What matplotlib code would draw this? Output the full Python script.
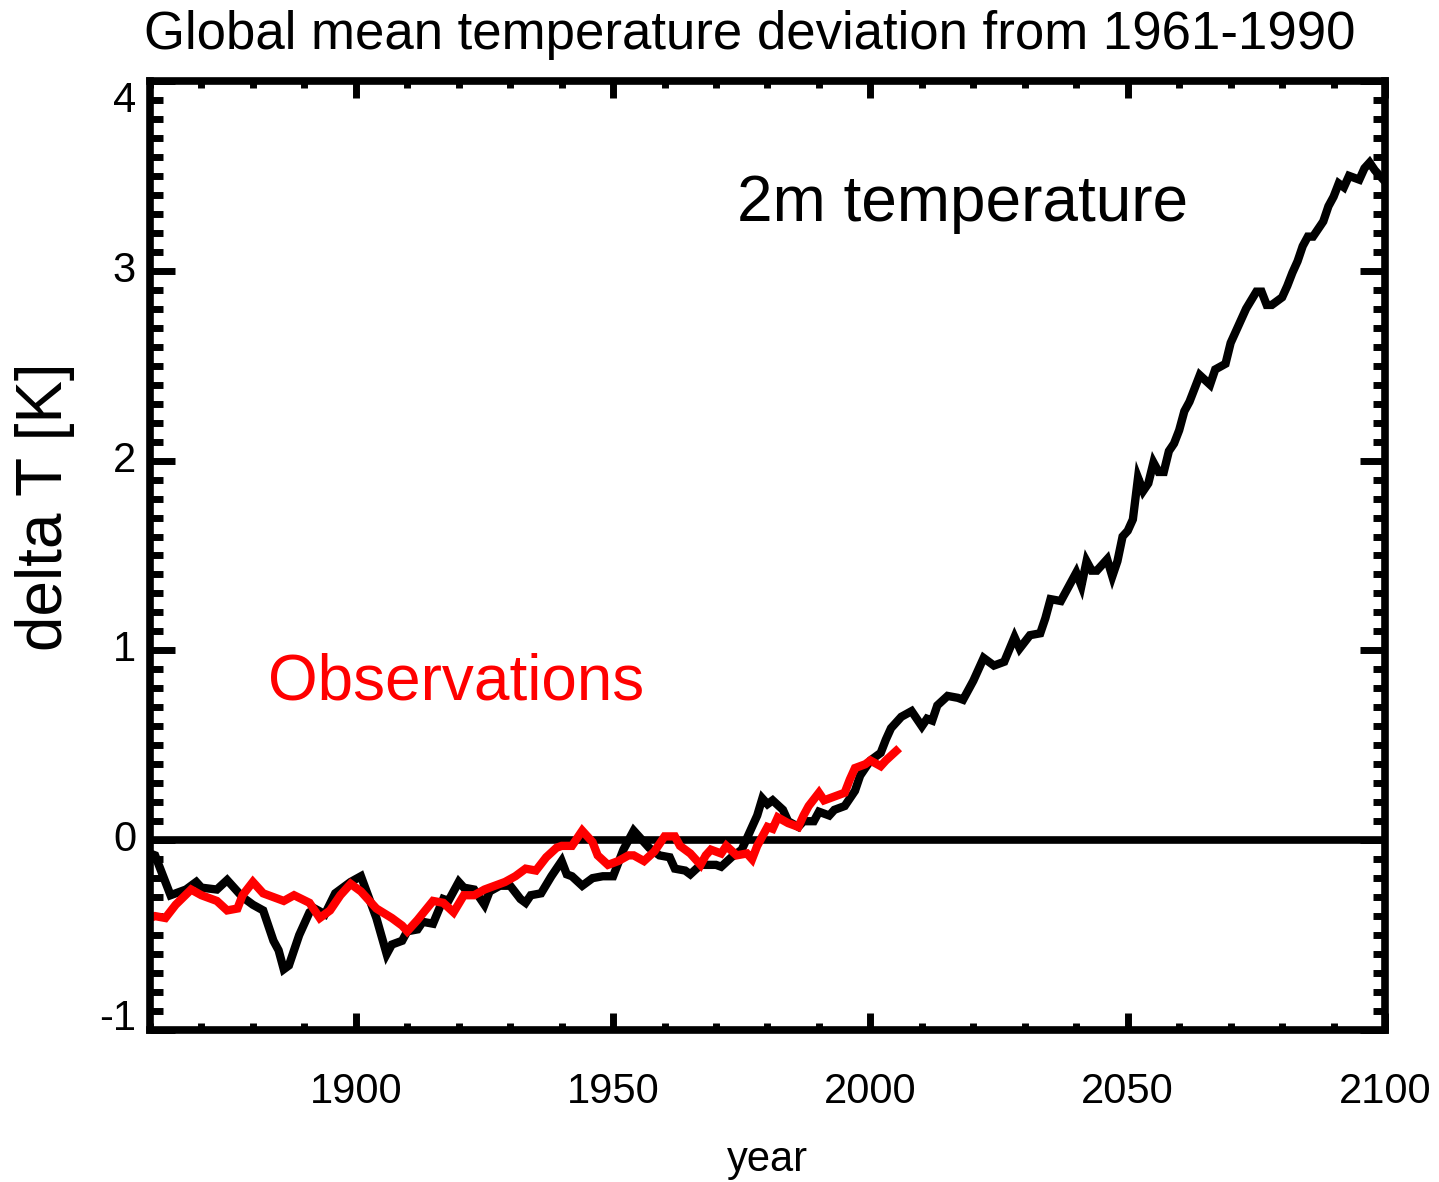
import matplotlib
matplotlib.use("Agg")
import matplotlib.pyplot as plt
from matplotlib.ticker import MultipleLocator

plt.rcParams['font.family'] = ['Liberation Sans', 'DejaVu Sans']
plt.rcParams['axes.unicode_minus'] = False

# model run, 2m temperature anomaly vs 1961-1990 (K)
model_years = [1860, 1861, 1862, 1864, 1867, 1869, 1870, 1873, 1875, 1876, 1878, 1880,
               1882, 1884, 1885, 1886, 1887, 1889, 1891, 1892, 1894, 1896, 1899, 1901,
               1904, 1906, 1907, 1909, 1910, 1912, 1913, 1915, 1917, 1918, 1920, 1921,
               1923, 1925, 1926, 1928, 1930, 1932, 1933, 1934, 1936, 1938, 1940, 1941,
               1942, 1944, 1946, 1948, 1950, 1951, 1952, 1954, 1955, 1957, 1959, 1961,
               1962, 1964, 1965, 1967, 1970, 1971, 1973, 1975, 1976, 1977, 1978, 1979,
               1980, 1981, 1983, 1984, 1986, 1987, 1989, 1990, 1992, 1993, 1995, 1997,
               1998, 2000, 2002, 2003, 2004, 2006, 2008, 2010, 2011, 2012, 2013, 2015,
               2017, 2018, 2020, 2022, 2024, 2026, 2028, 2029, 2031, 2033, 2034, 2035,
               2037, 2038, 2040, 2041, 2042, 2043, 2044, 2046, 2047, 2048, 2049, 2050,
               2051, 2052, 2053, 2054, 2055, 2056, 2057, 2058, 2059, 2060, 2061, 2062,
               2064, 2066, 2067, 2069, 2070, 2072, 2073, 2075, 2076, 2077, 2078, 2080,
               2081, 2082, 2083, 2084, 2085, 2086, 2088, 2089, 2090, 2091, 2092, 2093,
               2095, 2096, 2097, 2098, 2099, 2100]
model_dt = [-0.07, -0.08, -0.15, -0.29, -0.26, -0.22, -0.25, -0.26, -0.21, -0.24, -0.30, -0.34,
            -0.37, -0.53, -0.58, -0.68, -0.66, -0.50, -0.38, -0.36, -0.39, -0.28, -0.22, -0.19,
            -0.41, -0.60, -0.55, -0.53, -0.48, -0.47, -0.43, -0.44, -0.31, -0.32, -0.22, -0.25,
            -0.26, -0.34, -0.27, -0.24, -0.24, -0.31, -0.33, -0.29, -0.28, -0.19, -0.11, -0.18,
            -0.19, -0.24, -0.20, -0.19, -0.19, -0.12, -0.05, 0.05, 0.02, -0.04, -0.08, -0.09,
            -0.15, -0.16, -0.18, -0.13, -0.13, -0.14, -0.09, -0.05, 0.01, 0.07, 0.13, 0.22,
            0.19, 0.21, 0.16, 0.10, 0.07, 0.10, 0.10, 0.15, 0.13, 0.16, 0.18, 0.26,
            0.34, 0.42, 0.46, 0.53, 0.59, 0.65, 0.68, 0.60, 0.64, 0.63, 0.71, 0.76,
            0.75, 0.74, 0.84, 0.96, 0.92, 0.94, 1.07, 1.01, 1.08, 1.09, 1.17, 1.27,
            1.26, 1.31, 1.41, 1.34, 1.47, 1.42, 1.42, 1.48, 1.39, 1.47, 1.60, 1.63,
            1.69, 1.91, 1.84, 1.88, 1.99, 1.94, 1.94, 2.05, 2.09, 2.16, 2.26, 2.31,
            2.45, 2.40, 2.48, 2.51, 2.62, 2.74, 2.80, 2.89, 2.89, 2.82, 2.82, 2.86,
            2.92, 2.99, 3.05, 3.13, 3.18, 3.18, 3.26, 3.34, 3.39, 3.46, 3.44, 3.50,
            3.48, 3.54, 3.57, 3.53, 3.50, 3.47]

# observed anomaly
obs_years = [1860, 1861, 1863, 1865, 1868, 1870, 1873, 1875, 1877, 1878, 1880, 1882,
             1884, 1886, 1888, 1891, 1893, 1895, 1897, 1899, 1901, 1904, 1907, 1909,
             1910, 1912, 1915, 1917, 1919, 1921, 1923, 1925, 1927, 1929, 1931, 1933,
             1935, 1937, 1939, 1940, 1942, 1944, 1946, 1947, 1949, 1951, 1953, 1954,
             1956, 1958, 1960, 1962, 1963, 1965, 1967, 1968, 1969, 1971, 1972, 1974,
             1976, 1977, 1978, 1980, 1981, 1982, 1984, 1986, 1987, 1988, 1990, 1991,
             1993, 1995, 1996, 1997, 1999, 2000, 2002, 2003, 2005]
obs_dt = [-0.41, -0.40, -0.41, -0.34, -0.26, -0.29, -0.32, -0.37, -0.36, -0.29, -0.22, -0.28,
          -0.30, -0.32, -0.29, -0.33, -0.41, -0.37, -0.29, -0.23, -0.27, -0.36, -0.41, -0.45,
          -0.48, -0.42, -0.32, -0.33, -0.38, -0.29, -0.29, -0.26, -0.24, -0.22, -0.19, -0.15,
          -0.16, -0.09, -0.04, -0.03, -0.03, 0.05, -0.01, -0.08, -0.13, -0.11, -0.08, -0.08,
          -0.11, -0.06, 0.02, 0.02, -0.03, -0.07, -0.13, -0.08, -0.05, -0.07, -0.03, -0.08,
          -0.07, -0.10, -0.03, 0.07, 0.06, 0.12, 0.09, 0.07, 0.13, 0.18, 0.25, 0.21,
          0.23, 0.25, 0.32, 0.38, 0.40, 0.42, 0.39, 0.42, 0.47]

y_ticks = [-1, 0, 1, 2, 3, 4]
x_ticks = [1900, 1950, 2000, 2050, 2100]

fig = plt.figure(figsize=(14.39, 11.82), dpi=100)
ax = fig.add_axes([0.1042, 0.1286, 0.8583, 0.8029])

ax.axhline(0, color='black', lw=5.5)
ax.plot(model_years, model_dt, color='black', lw=6, solid_joinstyle='miter')
ax.plot(obs_years, obs_dt, color='red', lw=6, solid_joinstyle='miter')

ax.set_xlim(1860, 2100)
ax.set_ylim(-1, 4)
ax.set_xticks(x_ticks)
ax.set_yticks(y_ticks)
ax.xaxis.set_minor_locator(MultipleLocator(10))
ax.yaxis.set_minor_locator(MultipleLocator(0.1))

for s in ax.spines.values():
    s.set_linewidth(5.5)

ax.tick_params(axis='both', which='both', direction='in', top=True, right=True,
               labelsize=30, width=5)
ax.tick_params(axis='x', which='major', length=12, pad=30)
ax.tick_params(axis='x', which='minor', length=5)
ax.tick_params(axis='y', which='major', length=18, pad=10)
ax.tick_params(axis='y', which='minor', length=9)

# pull the end labels inside the frame
ylabs = ax.get_yticklabels()
for lab in ylabs:
    lab.set_va('center')
ylabs[-1].set_va('top')
ylabs[0].set_va('baseline')

ax.set_xlabel('year', fontsize=30, va='center')
ax.xaxis.set_label_coords(0.5, -0.137)
ax.set_ylabel('delta T [K]', fontsize=46, va='center')
ax.yaxis.set_label_coords(-0.085, 0.551)

ax.text(1974, 3.35, '2m temperature', fontsize=46, color='black', va='center')
ax.text(1883, 0.83, 'Observations', fontsize=46, color='red', va='center')

fig.text(750 / 1439, 1 - 35 / 1182, 'Global mean temperature deviation from 1961-1990',
         fontsize=38, ha='center', va='center')

fig.savefig('out.png', dpi=100)
